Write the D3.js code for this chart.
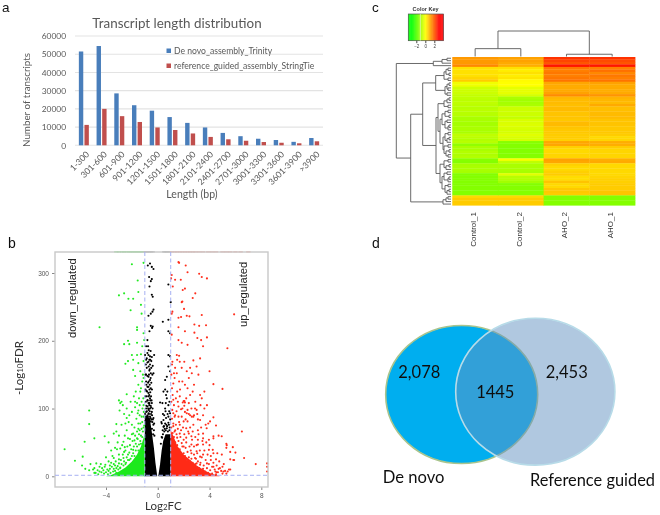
<!DOCTYPE html>
<html><head><meta charset="utf-8">
<script src="https://cdn.jsdelivr.net/npm/d3@7/dist/d3.min.js"></script>
<style>html,body{margin:0;padding:0;background:#fff}svg{display:block}</style>
</head><body><svg id="c" width="660" height="515" viewBox="0 0 660 515"><defs><filter id="soft" x="0" y="0" width="1" height="1" filterUnits="objectBoundingBox"><feGaussianBlur stdDeviation="0.3"/></filter></defs></svg>
<script>
// ---------- panel a
const lengthBins=["1-300","301-600","601-900","901-1200","1201-1500","1501-1800","1801-2100","2101-2400","2401-2700","2701-3000","3001-3300","3301-3600","3601-3900",">3900"];
const trinityCounts=[51500,54500,28500,22000,19000,15500,12300,9800,6800,5000,3600,2900,1900,4000];
const stringTieCounts=[11200,20000,16000,12800,9800,8400,6500,4600,3300,2500,1800,1400,1100,2200];
const lengthTicks=[0,10000,20000,30000,40000,50000,60000];
const lengthSeries=["De novo_assembly_Trinity","reference_guided_assembly_StringTie"];
// ---------- panel b : points [log2FC, -log10FDR]
const downPoints=[[-2,313],[-1.1,315],[-1.55,289],[-1.5,272],[-3,267],[-2.6,270],[-2.27,262],[-1.9,262],[-2.1,245],[-1.3,253],[-1.25,240],[-4.5,220],[-1.6,220],[-1.6,216],[-2.3,200],[-2.6,195],[-2.2,195],[-1.6,197],[-1.1,211],[-1.05,201],[-1.2,192],[-2,179],[-1.6,179],[-2.3,170],[-1.9,172],[-2.5,166],[-1.5,167],[-1.9,157],[-1.35,155],[-1.75,148],[-1.15,150],[-1.3,180],[-1.1,170],[-1.2,140],[-1.5,135],[-1.35,125],[-2.4,121],[-3,112],[-2.9,108],[-2.7,105],[-5.3,97],[-5.3,77],[-5.65,51],[-4.9,56],[-7.2,40],[-6.4,23],[-5.8,29],[-5.85,16],[-5.6,11],[-5.3,9],[-4.8,5],[-5.2,18],[-4.75,19],[-4.4,18],[-4.1,14],[-4.2,9],[-3.8,8],[-3.2,77],[-3.4,27],[-3,32],[-2.6,36],[-3.8,50],[-4.1,59],[-3.4,63],[-3.2,66],[-2.8,76],[-2.4,86],[-1.75,102],[-1.55,93],[-2,76],[-1.5,78],[-1.9,63],[-2.4,68],[-2.3,56],[-2.65,51],[-2.9,41],[-2.55,43],[-2.15,46],[-1.8,53],[-1.4,68],[-1.25,88],[-1.1,105],[-1.6,56],[-1.9,39],[-2.3,32],[-2.65,27],[-3,19],[-3.4,11],[-3.7,11],[-3.2,5],[-2.95,97],[-2.8,110],[-2.4,100],[-1.5,97],[-1.75,110],[-3.6,20],[-3.3,16],[-2.9,13],[-2.5,18],[-2.2,24],[-1.8,30],[-1.5,38],[-1.2,58],[-1.1,72],[-1.3,48],[-4.5,7],[-4.9,12],
[-1.05,75],[-1.1,88],[-1.15,66],[-1.2,80],[-1.25,70],[-1.3,60],[-1.35,78],[-1.35,52],[-1.4,90],[-1.45,62],[-1.45,47],[-1.5,70],[-1.55,55],[-1.6,44],[-1.6,66],[-1.65,85],[-1.7,48],[-1.7,38],[-1.75,60],[-1.8,72],[-1.85,44],[-1.9,34],[-1.95,52],[-2,30],[-2,62],[-2.05,40],[-2.1,26],[-2.15,55],[-2.2,35],[-2.25,80],[-2.3,24],[-2.35,44],[-2.4,28],[-2.45,20],[-2.5,38],[-2.55,60],[-2.6,22],[-2.65,16],[-2.7,32],[-2.75,46],[-2.8,18],[-2.85,24],[-2.9,12],[-3,25],[-3.05,10],[-3.1,15],[-3.15,40],[-3.2,12],[-3.25,22],[-3.3,8],[-3.4,18],[-3.45,7],[-3.5,30],[-3.55,14],[-3.65,5],[-3.7,16],[-3.8,22],[-3.85,3],[-3.9,10],[-4,6],[-4,28],[-4.05,17],[-4.15,4],[-4.3,12],[-4.35,6],[-4.5,14],[-4.6,3],[-4.65,9],[-4.9,5],[-5,10],[-1.08,95],[-1.12,115],[-1.18,100],[-1.25,110],[-1.3,130],[-1.4,105],[-1.45,115],[-1.6,108],[-1.7,125],[-1.85,118],[-1.1,145],[-2,95],[-2.1,110],[-2.2,90],[-2.5,78],[-2.6,92],[-3,60],[-3.1,50],[-3.3,42],[-3.6,38]];
const upPoints=[[1.6,316],[1.65,315],[2.16,311],[2.3,301],[3.2,299],[3.4,294],[3.8,292],[1.08,297],[1.03,292],[1.34,290],[1.78,290],[1.16,280],[1.93,275],[2.1,277],[2.9,270],[2.7,263],[1.9,258],[1.85,257],[2.03,247],[1.13,243],[1.08,240],[1.6,234],[1.8,235],[2.24,237],[2.45,236],[3.4,238],[5.9,239],[2.83,224],[3.2,222],[3.73,223],[1.6,220],[2.1,214],[2.83,212],[1.6,201],[1.08,209],[3.06,204],[3.8,205],[3.35,201],[1.85,197],[2.3,194],[3.5,192],[5.38,189],[1.47,179],[1.65,178],[1.13,169],[1.5,172],[1.7,169],[2.05,169],[2.75,171],[3.27,174],[3,162],[1.34,160],[1.85,160],[2.5,160],[1.47,152],[2.24,155],[2.63,152],[4,155],[3.14,150],[4.3,136],[1.2,137],[5,129],[1.72,128],[3.27,120],[3.4,115],[2.06,111],[1.93,109],[2.1,109],[1.2,113],[2.88,100],[3,98],[2.24,93],[1.34,90],[2.63,88],[4.3,87],[3.27,83],[4.04,81],[3.78,71],[6.5,66],[4.7,60],[4.94,59],[4.3,56],[5.33,46],[5.8,43],[5.6,36],[4.95,32],[4.3,34],[5.84,24],[6.67,27],[7.57,18],[8.45,19],[8.45,14],[8.45,7],[5.6,10],[5.4,7],[4.8,12],[5.07,7],[4.55,6],[4.3,14],[4.5,75],[2.75,88],[3.8,105],[2,111],[5.3,48],[5.3,42],[6,35],[5.6,25],[5.9,24],[3.7,76],[3.9,78],[3.5,63],[3.1,84],[2.8,90],[2.4,92],[2.75,76],[2.2,71],[1.7,76],[2,81],[1.6,88],[2.1,95],[3.1,68],[2.6,59],[3.1,54],[3.5,56],[3.95,54],[4.3,59],[3.1,47],[3.5,47],[3.95,39],[4.25,39],[4.6,34],[3.5,32],[3.27,29],[4.1,24],[4.5,25],[3.8,19],[4.2,14],[5,14],[5.5,10],[5.2,8],[4.7,11],[4.45,7],[3.5,11],[3,37],[2.6,47],[2.2,57],[1.7,63],[1.5,57],[1.85,49],[2.4,63],[2,44],[2.6,34],[3,19],[3.27,17],[2.88,27],[1.35,68],[1.2,78],[2.3,81],[1.2,93],[1.6,103],[2.4,108],[1.5,125],[1.1,130],[1.9,140],[2.3,130],[2.8,135],[1.3,145],[2.5,120],[2.9,110],[1.8,99],
[1.05,72],[1.1,85],[1.12,98],[1.15,64],[1.2,74],[1.25,58],[1.3,88],[1.3,66],[1.35,50],[1.4,76],[1.45,62],[1.45,96],[1.5,46],[1.55,70],[1.6,52],[1.65,80],[1.7,40],[1.75,58],[1.8,68],[1.8,34],[1.85,88],[1.9,44],[1.95,72],[2,34],[2,54],[2.05,62],[2.1,30],[2.15,42],[2.15,84],[2.2,50],[2.25,24],[2.3,36],[2.35,66],[2.4,28],[2.45,44],[2.5,22],[2.5,72],[2.55,38],[2.6,26],[2.65,54],[2.7,20],[2.7,66],[2.8,32],[2.8,44],[2.9,18],[2.9,58],[2.95,26],[3,14],[3,46],[3.05,34],[3.1,22],[3.15,62],[3.2,12],[3.25,38],[3.3,20],[3.35,72],[3.4,9],[3.4,28],[3.45,52],[3.55,16],[3.6,38],[3.65,7],[3.7,24],[3.75,50],[3.8,12],[3.85,32],[3.9,5],[3.95,18],[4,46],[4.05,9],[4.1,30],[4.2,4],[4.3,20],[4.4,10],[4.5,3],[4.55,16],[4.65,6],[4.75,22],[4.9,8],[5,4],[5.1,18],[5.3,4],[1.05,110],[1.15,120],[1.25,105],[1.4,115],[1.55,110],[1.7,118],[1.9,100],[2.05,104],[2.2,115],[2.3,98],[2.6,100],[2.5,90],[3.05,92],[3.3,105],[3.5,90],[3.6,100],[1.05,150],[1.1,165],[1.25,152],[1.65,140],[2.1,135],[2.4,145],[2.7,125],[3.6,125]];
const nsPoints=[[-.6,314],[-.77,311],[-.33,306],[-.46,309],[-.67,294],[-.46,291],[-.54,288],[-.64,280],[.82,283],[-.46,268],[-.39,265],[1,257],[-.33,246],[-.54,240],[-.41,243],[-.72,237],[.39,228],[.82,231],[-.54,222],[-.39,221],[-.44,219],[.82,214],[.95,211],[-.64,214],[-.8,201],[-.9,192],[-.98,179],[-.72,179],[-.6,177],[-.85,174],[-.46,176],[-.72,169],[-.6,165],[-.39,163],[-.28,179],[-.85,160],[-.54,152],[-.33,152],[-.72,147],[-.6,142],[.7,147],[.57,142],[-.72,132],[-.54,130],[.57,128],[.44,125],[.64,120],[.7,115],[-.72,123],[-.85,118],[-.6,115],[.82,179],[.95,177],[.82,162],[.95,155],[.82,105],[.36,108],[.18,109],[.57,100],[-.46,108],[-.72,108],[-.8,103],[-.6,100],[-.9,95],[-.72,93],[-.46,95],[-.85,88],[-.6,88],[-.33,86],[-.77,81],[-.54,81],[-.28,78],[.44,83],[.64,86],[.82,88],[.95,93],[.31,78],[.57,78],[.82,79],[.44,73],[.7,71],[-.95,150],[-.8,148],[-.65,156],[-.5,160],[-.9,140],[-.75,138],[-.62,135],[-.5,138],[-.95,128],[-.82,125],[-.66,120],[-.52,118],[-.92,110],[-.78,112],[-.66,105],[-.55,104],[-.9,100],[-.7,98],[-.52,92],[-.8,90],[-.68,84],[-.42,80],[-.95,82],[-.85,76],[-.7,78],[-.45,70],[-.36,62],[.5,66],[.62,68],[.9,68],[.78,66],[.4,62],[.34,57],[-.9,172],[-.7,186],[-.75,192],[-.62,158],[-.92,165],[-.8,168],[-.58,172],
[-.98,92],[-.93,86],[-.88,104],[-.84,96],[-.8,112],[-.76,88],[-.74,100],[-.7,118],[-.68,92],[-.64,108],[-.62,96],[-.58,112],[-.56,86],[-.52,102],[-.5,84],[-.48,112],[-.44,90],[-.4,100],[-.38,84],[-.34,76],[-.3,68],[-.26,60],[-.96,118],[-.88,126],[-.8,132],[-.7,140],[-.64,128],[-.58,124],[-.55,145],[-.45,128],[-.42,150],[-.88,135],[-.68,150],[-.9,150],[-.7,162],[-.55,185],[-.8,182],[-.65,172],[-.5,170],[.92,72],[.86,76],[.72,74],[.66,76],[.54,70],[.48,74],[.38,68],[.3,58],[.24,48],[.96,84],[.88,96],[.76,92],[.6,96],[.5,90],[.4,92],[.28,80],[.9,110],[.74,125],[.62,108]];
// envelopes of the solid clouds near the origin: [log2FC, top]
const downCloud=[[-4,0],[-3.6,2],[-3,7],[-2.5,13],[-2,22],[-1.6,32],[-1.3,44],[-1.05,60],[-1,62],[-1,0]];
const upCloud=[[1,0],[1,68],[1.2,60],[1.5,45],[2,32],[2.5,24],[3,16],[3.5,10],[4,5],[4.5,2],[4.8,0]];
const nsLeftCloud=[[-1,0],[-1,90],[-.62,86],[-.45,64],[-.3,42],[-.18,20],[-.05,1.5],[-.05,0]];
const nsRightCloud=[[.05,0],[.05,1.5],[.18,18],[.3,38],[.42,52],[.6,62],[1,62],[1,0]];
const topDown=[-3.2,-3,-2.75,-2.6,-2.4,-2.2,-2.05,-1.9,-1.75,-1.6,-1.45,-1.3,-1.15];
const topNs=[-.95,-.85,-.7,-.55,-.4,.5,.6,.75,.9];
const topUp=[1.1,1.3,1.5,1.7,1.9,2.1,2.3,2.5,2.7,2.9,3.2,3.5,3.9,4.2,4.5,5,5.3,5.6,6,6.4,7];
const volcanoXTicks=[-4,0,4,8];
const volcanoYTicks=[0,100,200,300];
// ---------- panel c
const sampleNames=["Control_1","Control_2","AHO_2","AHO_1"];
const control1=[1.2,1.2,1.2,1.4,.35,.35,.35,.35,.5,.6,-.15,-.2,-.55,-.6,-.6,-.7,-.75,-.8,-.75,-.8,-.85,-.8,-.85,-.85,-1,-1,-1.05,-1.05,-1,-1,-1,-.75,-.8,-.9,-.85,-1.3,-1,-1,-.9,-.95,-.9,-1.4,-1.45,-1.05,-1,-1,-1.05,-1.45,-1.45,-1.45,-1.45,-1.45,-1.45,-1.45,-1.45,-1.45,.45,.6,.6,.6];
const control2=[1.1,1.1,1,.95,.35,.2,.35,.2,.3,.05,0,0,-.3,-.3,-.3,-.5,-1,-1.1,-1.05,-1,-.6,-.6,-.6,-.6,-.7,-.45,-.45,-.4,-.45,-.5,-.5,-.35,-.45,-.5,-1.4,-1.45,-1.45,-1.45,-1.45,-1.45,-1.45,-.05,-.75,-1,-1,-1,-1.05,-.35,-.85,-.9,-1.1,-1.45,-1.45,-1.45,-1.45,-1.45,.45,.6,.6,.6];
const aho2=[2.4,2.2,2,2.75,1.6,1.5,1.6,1.5,1.6,1.65,1.05,1,1,1,1.1,1.35,.85,.8,.8,.75,.8,.8,.7,.7,.7,.65,.8,.8,.7,.65,.65,.6,.6,.55,1.05,1.05,.55,.45,.45,.5,.5,1.1,1.05,.55,.45,.45,.55,.6,.4,.4,.7,.45,.45,.65,.65,.6,-1.45,-1.45,-1.45,-1.45];
const aho1=[2.4,2.1,2,2.75,1.5,1.7,1.4,1.6,1.5,1.65,1.1,1,1,.95,1,1.25,.9,.85,.8,1,.75,.75,.8,.8,.8,.7,.7,.7,.65,.65,.65,.6,.45,.5,.95,.95,.6,.5,.5,.5,.5,.95,1,.45,.45,.45,.45,.45,.5,.55,.55,.6,.6,.6,.7,.7,-1.45,-1.45,-1.45,-1.45];
const keyTicks=[-2,0,2];
// dendrograms: [height, left, right]; 0 is a leaf
const colTree=[26,[8,0,0],[2.3,0,0]];
const rowTree=[54.7,
 [17.7,[9,[4,0,0],0],0],
 [40.3,
  [28.3,
   [15.3,[7,[5,[3,0,0],[2,0,0]],[3,0,0]],[6,[4,[2,0,0],[3,0,0]],[4,0,0]]],
   [15,
    [13,[7,[4,[2,0,0],0],[3,0,0]],
     [11,[9,[6,[3,0,0],[2,0,0]],[6,[4,0,0],[3,[2,0,0],0]]],
         [8,[6,[3,0,0],[4,[2,0,0],0]],[7,[3,0,0],[5,[2,0,0],[3,0,0]]]]]],
    [11,[7,[3,0,0],[5,[2,0,0],0]],[9,[7,[4,0,0],[3,[2,0,0],0]],[6,[3,0,0],[4,[2,0,0],0]]]]]],
  [8,[5,[3,0,0],0],0]]];
// ---------- panel d
const vennLabels=["2,078","1445","2,453"];
const vennNames=["De novo","Reference guided"];

const root=d3.select("#c");
const svg=root.append("g").attr("filter","url(#soft)");
svg.append("rect").attr("width",660).attr("height",515).attr("fill","#fff");
const sans="'Liberation Sans',Arial,sans-serif", cal="Lato,'Open Sans',sans-serif";
const note=(t,x,y,o={})=>svg.append("text").text(t).attr("x",x).attr("y",y)
  .attr("font-family",o.f||sans).attr("font-size",o.s||14).attr("fill",o.c||"#111")
  .attr("text-anchor",o.a||"start").attr("font-weight",o.w||400)
  .attr("transform",o.r?`rotate(${o.r} ${x} ${y})`:null);
note("a",2,12,{s:13.5}); note("b",8,248,{s:14}); note("c",372,12,{s:13.5}); note("d",372,248,{s:14});

// ===== a
(function(){
 const g=svg.append("g"), grey="#595959";
 const x=d3.scaleBand().domain(lengthBins).range([75,323]);
 const y=d3.scaleLinear().domain([0,60000]).range([145.3,36]);
 g.append("g").selectAll("line").data(lengthTicks).join("line")
  .attr("x1",75).attr("x2",323).attr("y1",d=>y(d)).attr("y2",d=>y(d))
  .attr("stroke","#e3e3e3").attr("stroke-width",1.1);
 const ya=g.append("g").attr("transform","translate(69,0)").call(d3.axisLeft(y).tickValues(lengthTicks).tickSize(0).tickFormat(d3.format("d")));
 ya.select(".domain").remove();
 ya.selectAll("text").attr("font-family",cal).attr("font-size",8.4).attr("fill",grey);
 const bw=4.4;
 g.selectAll(".t").data(lengthBins).join("rect").attr("fill","#4a7ebb")
  .attr("x",d=>x(d)+x.bandwidth()/2-bw-.6).attr("width",bw)
  .attr("y",(d,i)=>y(trinityCounts[i])).attr("height",(d,i)=>y(0)-y(trinityCounts[i]));
 g.selectAll(".s").data(lengthBins).join("rect").attr("fill","#c0504d")
  .attr("x",d=>x(d)+x.bandwidth()/2+.6).attr("width",bw)
  .attr("y",(d,i)=>y(stringTieCounts[i])).attr("height",(d,i)=>y(0)-y(stringTieCounts[i]));
 g.selectAll(".l").data(lengthBins).join("text").text(d=>d)
  .attr("font-family",cal).attr("font-size",8.6).attr("fill",grey).attr("text-anchor","end")
  .attr("transform",d=>`translate(${x(d)+x.bandwidth()/2+3},152) rotate(-45)`).attr("dy",".5em");
 note("Transcript length distribution",177,28,{f:cal,s:13.4,c:"#595959",a:"middle"});
 note("Number of transcripts",30,100,{f:cal,s:9.8,c:"#595959",a:"middle",r:-90});
 note("Length (bp)",192,198,{f:cal,s:10.5,c:"#595959",a:"middle"});
 lengthSeries.forEach((n,i)=>{
  const ly=50.5+i*15;
  g.append("rect").attr("x",166.5).attr("y",ly-2).attr("width",4.5).attr("height",4.5).attr("fill",i?"#c0504d":"#4a7ebb");
  note(n,174,ly+3,{f:cal,s:8.6,c:"#595959"});
 });
})();

// ===== b
(function(){
 const g=svg.append("g");
 const x=d3.scaleLinear().domain([-4,8]).range([106,261.3]);
 const y=d3.scaleLinear().domain([0,300]).range([476.3,273]);
 const L=55,R=268,T=252,B=487;
 const ax=g.append("g").attr("transform",`translate(0,${B})`).call(d3.axisBottom(x).tickValues(volcanoXTicks).tickSize(3).tickPadding(3));
 const ay=g.append("g").attr("transform",`translate(${L},0)`).call(d3.axisLeft(y).tickValues(volcanoYTicks).tickSize(3).tickPadding(3));
 [ax,ay].forEach(a=>{a.select(".domain").remove();a.selectAll("line").attr("stroke","#888");
  a.selectAll("text").attr("font-family",sans).attr("font-size",6.5).attr("fill","#555");});
 const clouds=[[nsLeftCloud,"#000"],[nsRightCloud,"#000"],[downCloud,"#1ee91e"],[upCloud,"#ff2a17"]];
 const poly=d3.line().x(d=>x(d[0])).y(d=>y(d[1]));
 clouds.forEach(([c,f])=>g.append("path").attr("d",poly(c)+"Z").attr("fill",f));
 [[downPoints,"#22ea22"],[upPoints,"#ff2e1c"],[nsPoints,"#000"]].forEach(([p,f])=>
  g.append("g").selectAll("circle").data(p).join("circle")
   .attr("cx",d=>x(d[0])).attr("cy",d=>y(d[1])).attr("r",1.05).attr("fill",f));
 [[topDown,"#7fea7f"],[topNs,"#aaa"],[topUp,"#f6a9a0"]].forEach(([p,f])=>
  g.append("g").selectAll("rect").data(p).join("rect")
   .attr("x",d=>x(d)-2.2).attr("y",T-1).attr("width",4.4).attr("height",1.6).attr("fill",f).attr("opacity",.75));
 g.append("rect").attr("x",L).attr("y",T).attr("width",R-L).attr("height",B-T).attr("fill","none").attr("stroke","#c8c8c8").attr("stroke-width",1.4);
 const dash=s=>s.attr("stroke","#a6b0f2").attr("stroke-width",1).attr("stroke-dasharray","4 2.5");
 dash(g.append("line").attr("x1",L).attr("x2",R).attr("y1",y(1.5)).attr("y2",y(1.5)));
 [-1,1].forEach(v=>dash(g.append("line").attr("x1",x(v)).attr("x2",x(v)).attr("y1",T).attr("y2",B)));
 note("down_regulated",76,338,{s:11.2,r:-90,c:"#222"});
 note("up_regulated",247,327,{s:11.2,r:-90,c:"#222"});
 const xl=note("Log",145,510,{f:cal,s:11.5,c:"#333"});
 xl.append("tspan").text("2").attr("font-size",8);xl.append("tspan").text("FC");
 const yl=note("-Log",23,395,{f:cal,s:11.5,c:"#333",r:-90});
 yl.append("tspan").text("10").attr("font-size",8);yl.append("tspan").text("FDR");
})();

// ===== c
(function(){
 const g=svg.append("g");
 const color=d3.scaleLinear().domain([-3,0,3]).range(["#00ff00","#ffff00","#ff0000"]).clamp(true);
 const cols=[control1,control2,aho2,aho1];
 const rows=d3.range(control1.length);
 const x=d3.scaleBand().domain(sampleNames).range([452.3,635]);
 const y=d3.scaleBand().domain(rows).range([57,205.3]);
 sampleNames.forEach((s,ci)=>g.append("g").selectAll("rect").data(rows).join("rect")
   .attr("x",x(s)).attr("width",x.bandwidth()+.4).attr("y",r=>y(r)).attr("height",y.bandwidth()+.3)
   .attr("fill",r=>color(cols[ci][r])));
 sampleNames.forEach(s=>note(s,x(s)+x.bandwidth()/2+1,212,{s:8,c:"#333",a:"end",r:-90}));
 const seg=(a,b,c,d)=>g.append("line").attr("x1",a).attr("y1",b).attr("x2",c).attr("y2",d).attr("stroke","#5a5a5a").attr("stroke-width",.9);
 // column dendrogram
 const hc=d3.scaleLinear().domain([0,26]).range([56.5,31]);
 let ci=0;
 (function walk(n){
  if(n===0){const p=x(sampleNames[ci++])+x.bandwidth()/2;return [p,0];}
  const a=walk(n[1]),b=walk(n[2]);
  seg(a[0],hc(a[1]),a[0],hc(n[0]));seg(b[0],hc(b[1]),b[0],hc(n[0]));seg(a[0],hc(n[0]),b[0],hc(n[0]));
  return [(a[0]+b[0])/2,n[0]];
 })(colTree);
 // row dendrogram
 const hr=d3.scaleLinear().domain([0,54.7]).range([451,396.3]);
 let ri=0;
 (function walk(n){
  if(n===0){const p=y(rows[ri++])+y.bandwidth()/2;return [p,0];}
  const a=walk(n[1]),b=walk(n[2]);
  seg(hr(a[1]),a[0],hr(n[0]),a[0]);seg(hr(b[1]),b[0],hr(n[0]),b[0]);seg(hr(n[0]),a[0],hr(n[0]),b[0]);
  return [(a[0]+b[0])/2,n[0]];
 })(rowTree);
 // colour key
 const kx=d3.scaleLinear().domain([-2,2]).range([416.3,434.3]);
 const kv=d3.range(-3.78,4.0,.1);
 g.append("g").selectAll("rect").data(kv).join("rect")
  .attr("x",d=>kx(d)).attr("width",.7).attr("y",14).attr("height",26.7).attr("fill",d=>color(d));
 g.append("rect").attr("x",408.3).attr("y",14).attr("width",35).attr("height",26.7).attr("fill","none").attr("stroke","#555").attr("stroke-width",.7);
 g.append("line").attr("x1",kx(-1.1)).attr("x2",kx(-1.1)).attr("y1",14).attr("y2",40.7).attr("stroke","#dff5c8").attr("stroke-width",.7);
 const ka=g.append("g").attr("transform","translate(0,40.7)").call(d3.axisBottom(kx).tickValues(keyTicks).tickSize(2.5).tickPadding(1.5).tickFormat(d3.format("d")));
 ka.select(".domain").remove();ka.selectAll("line").attr("stroke","#444");
 ka.selectAll("text").attr("font-family",sans).attr("font-size",4.6).attr("fill","#444");
 note("Color Key",425.6,11,{s:5.5,w:700,a:"middle",c:"#333"});
})();

// ===== d
(function(){
 const g=svg.append("g");
 g.append("ellipse").attr("cx",461.7).attr("cy",394.5).attr("rx",76).attr("ry",69).attr("fill","#00aeef").attr("stroke","#a9c48d").attr("stroke-width",1.6);
 g.append("ellipse").attr("cx",535.3).attr("cy",391.7).attr("rx",79.6).attr("ry",73.4).attr("fill","#6191c1").attr("fill-opacity",.5).attr("stroke","none");
 g.append("ellipse").attr("cx",535.3).attr("cy",391.7).attr("rx",79.6).attr("ry",73.4).attr("fill","none").attr("stroke","#b7dbe8").attr("stroke-width",1.6);
 const o={f:cal,s:16.5,c:"#111",a:"middle"};
 note(vennLabels[0],419.3,378,o);note(vennLabels[1],495.3,398,o);note(vennLabels[2],566.7,378,o);
 note(vennNames[0],382.7,483,{f:cal,s:16.6});note(vennNames[1],530,486,{f:cal,s:16.4});
})();
</script></body></html>
